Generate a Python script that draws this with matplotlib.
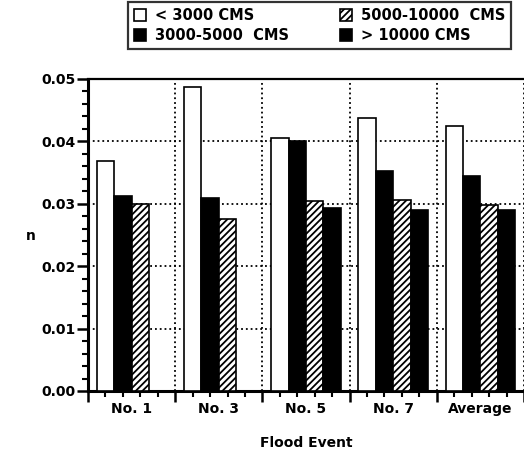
import numpy as np
import matplotlib
matplotlib.use('Agg')
import matplotlib.pyplot as plt
from matplotlib.ticker import MultipleLocator

events = ['No. 1', 'No. 3', 'No. 5', 'No. 7', 'Average']
series_labels = ['< 3000 CMS', '3000-5000  CMS', '5000-10000  CMS', '> 10000 CMS']
# nan = no bar for that event
lt_3000 = [0.0369, 0.0487, 0.0405, 0.0438, 0.0424]
q3000_5000 = [0.0313, 0.0310, 0.0401, 0.0353, 0.0345]
q5000_10000 = [0.0300, 0.0276, 0.0304, 0.0306, 0.0298]
gt_10000 = [np.nan, np.nan, 0.0294, 0.0290, 0.0290]

plt.rcParams['font.family'] = 'DejaVu Sans'
plt.rcParams['font.weight'] = 'bold'
plt.rcParams['hatch.linewidth'] = 1.3

W, H = 524, 455
fig = plt.figure(figsize=(W / 100, H / 100), dpi=100)
ax = fig.add_axes([88 / W, (H - 391) / H, (W - 88) / W, (391 - 79) / H])

x = np.arange(len(events))
bw = 0.2
styles = [dict(color='white', hatch=None),
          dict(color='black', hatch=None),
          dict(color='white', hatch='/////'),
          dict(color='black', hatch=None)]
all_series = [lt_3000, q3000_5000, q5000_10000, gt_10000]
handles = []
for k, (vals, st) in enumerate(zip(all_series, styles)):
    b = ax.bar(x - 0.4 + bw * (k + 0.5), vals, bw, facecolor=st['color'],
               edgecolor='black', linewidth=1.2, hatch=st['hatch'],
               label=series_labels[k], zorder=3)
    handles.append(b)

ax.set_xlim(-0.5, len(events) - 0.5)
ax.set_ylim(0, 0.05)
ax.xaxis.set_major_locator(MultipleLocator(1, offset=0.5))
ax.xaxis.set_minor_locator(MultipleLocator(0.2, offset=0.1))
ax.set_xticklabels([])
ax.yaxis.set_major_locator(MultipleLocator(0.01))
ax.yaxis.set_minor_locator(MultipleLocator(0.002))
ax.yaxis.set_major_formatter(matplotlib.ticker.FormatStrFormatter('%.2f'))
ax.tick_params(axis='both', which='major', length=8, width=1.8, direction='out',
               labelsize=10, pad=1)
ax.tick_params(axis='both', which='minor', length=4, width=1.5, direction='out')
ax.grid(which='major', linestyle=':', color='black', linewidth=1.3, zorder=1)
ax.set_axisbelow(True)

for s in ['left', 'bottom']:
    ax.spines[s].set_linewidth(2.2)
ax.spines['top'].set_linewidth(1.6)
ax.spines['right'].set_visible(False)

for i, name in enumerate(events):
    ax.annotate(name, xy=(i, 0), xycoords=('data', 'axes fraction'),
                xytext=(0, -8), textcoords='offset points',
                ha='center', va='top', fontsize=10, fontweight='bold')

fig.text(31 / W, 1 - 236 / H, 'n', ha='center', va='center', fontsize=10, fontweight='bold')
fig.text(306 / W, 1 - 443 / H, 'Flood Event', ha='center', va='center',
         fontsize=10, fontweight='bold')

leg = fig.legend(handles=handles, loc='upper left', ncol=2,
                 bbox_to_anchor=(128 / W, 1 - 2 / H, (511 - 128) / W, 0),
                 mode='expand', frameon=True, fancybox=False, fontsize=10.5,
                 handlelength=0.85, handleheight=0.85, handletextpad=0.6,
                 borderpad=0.4, labelspacing=0.35, columnspacing=2.0,
                 borderaxespad=0)
leg.get_frame().set_edgecolor('black')
leg.get_frame().set_linewidth(1.6)

fig.savefig('out.png', dpi=100)
